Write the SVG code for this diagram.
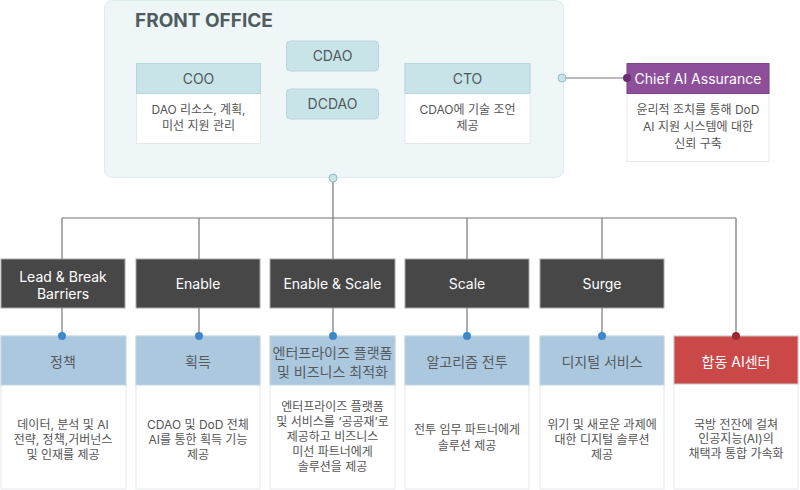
<svg xmlns="http://www.w3.org/2000/svg" width="800" height="490" viewBox="0 0 800 490">
<style>
text{font-family:Inter,"Noto Sans","Noto Sans CJK KR",sans-serif;text-anchor:middle}
.hd{fill:#c9e4e8;stroke:#b9d6db;stroke-width:1}
.wb{fill:#ffffff;stroke:#e3e8ea;stroke-width:1}
.ht{font-size:14px;fill:#4f5a5c}
.bt{font-size:12px;fill:#555555}
.dk{fill:#474747;stroke:#a8a8a8;stroke-width:1}
.dt{font-size:14px;fill:#ffffff}
.bh{fill:#abc8de;stroke:#c2d6e4;stroke-width:1}
.bht{font-size:14px;fill:#555a5e}
.ln{stroke:#777777;stroke-width:1.2;fill:none}
.bd{fill:#3d88c9}
</style>
<g id="front-office">
<rect x="104.5" y="0.5" width="459" height="177" rx="8" fill="#eef6f8" stroke="#dcebee"/>
<text x="135" y="27" style="font-size:19px;font-weight:700;fill:#4f5d60;text-anchor:start">FRONT OFFICE</text>
</g>
<g id="coo">
<rect class="wb" x="136.5" y="63.5" width="124" height="80"/>
<rect class="hd" x="136.5" y="63.5" width="124" height="30"/>
<text class="ht" x="198.5" y="84">COO</text>
<text class="bt" x="198.5" y="114">DAO 리소스, 계획,</text>
<text class="bt" x="198.5" y="130">미선 지원 관리</text>
</g>
<g id="cdao">
<rect class="hd" x="286.5" y="41" width="92" height="30" rx="4"/>
<text class="ht" x="332.5" y="61">CDAO</text>
</g>
<g id="dcdao">
<rect class="hd" x="286.5" y="89" width="92" height="30" rx="4"/>
<text class="ht" x="332.5" y="109">DCDAO</text>
</g>
<g id="cto">
<rect class="wb" x="405" y="63.5" width="125" height="80"/>
<rect class="hd" x="405" y="63.5" width="125" height="30"/>
<text class="ht" x="467.5" y="84">CTO</text>
<text class="bt" x="467.5" y="114">CDAO에 기술 조언</text>
<text class="bt" x="467.5" y="130">제공</text>
</g>
<g id="chief-ai-assurance">
<rect class="wb" x="627" y="63.5" width="142" height="98"/>
<rect x="627" y="63.5" width="142" height="30" fill="#8e4f9a" stroke="#7f4589"/>
<text x="698" y="84" style="font-size:14px;fill:#ffffff">Chief AI Assurance</text>
<text class="bt" x="698" y="114">윤리적 조치를 통해 DoD</text>
<text class="bt" x="698" y="131">AI 지원 시스템에 대한</text>
<text class="bt" x="698" y="148">신뢰 구축</text>
</g>
<g id="lead"><rect class="dk" x="1" y="259" width="124" height="49"/>
<text class="dt" x="63" y="282">Lead &amp; Break</text><text class="dt" x="63" y="299">Barriers</text></g>
<g id="enable"><rect class="dk" x="136" y="259" width="124" height="49"/><text class="dt" x="198" y="289">Enable</text></g>
<g id="enable-scale"><rect class="dk" x="270" y="259" width="125" height="49"/><text class="dt" x="332.5" y="289">Enable &amp; Scale</text></g>
<g id="scale"><rect class="dk" x="405" y="259" width="124" height="49"/><text class="dt" x="467" y="289">Scale</text></g>
<g id="surge"><rect class="dk" x="540" y="259" width="124" height="49"/><text class="dt" x="602" y="289">Surge</text></g>
<g id="policy">
<rect class="wb" x="1" y="336" width="125" height="153"/><rect class="bh" x="1" y="336" width="125" height="49"/>
<text class="bht" x="63" y="367">정책</text>
<text class="bt" x="63" y="429">데이터, 분석 및 AI</text>
<text class="bt" x="63" y="444">전략, 정책,거버넌스</text>
<text class="bt" x="63" y="459">및 인재를 제공</text>
</g>
<g id="acquisition">
<rect class="wb" x="136" y="336" width="124" height="153"/><rect class="bh" x="136" y="336" width="124" height="49"/>
<text class="bht" x="198" y="367">획득</text>
<text class="bt" x="198" y="429">CDAO 및 DoD 전체</text>
<text class="bt" x="198" y="444">AI를 통한 획득 기능</text>
<text class="bt" x="198" y="459">제공</text>
</g>
<g id="enterprise">
<rect class="wb" x="270" y="336" width="125" height="153"/><rect class="bh" x="270" y="336" width="125" height="49"/>
<text class="bht" x="332.5" y="358">엔터프라이즈 플랫폼</text>
<text class="bht" x="332.5" y="377">및 비즈니스 최적화</text>
<text class="bt" x="332.5" y="411">엔터프라이즈 플랫폼</text>
<text class="bt" x="332.5" y="426">및 서비스를 ‘공공재’로</text>
<text class="bt" x="332.5" y="441">제공하고 비즈니스</text>
<text class="bt" x="332.5" y="456">미선 파트너에게</text>
<text class="bt" x="332.5" y="471">솔루션을 제공</text>
</g>
<g id="algorithm">
<rect class="wb" x="405" y="336" width="124" height="153"/><rect class="bh" x="405" y="336" width="124" height="49"/>
<text class="bht" x="467" y="367">알고리즘 전투</text>
<text class="bt" x="467" y="434">전투 임무 파트너에게</text>
<text class="bt" x="467" y="450">솔루션 제공</text>
</g>
<g id="digital">
<rect class="wb" x="540" y="336" width="124" height="153"/><rect class="bh" x="540" y="336" width="124" height="49"/>
<text class="bht" x="602" y="367">디지털 서비스</text>
<text class="bt" x="602" y="429">위기 및 새로운 과제에</text>
<text class="bt" x="602" y="444">대한 디지털 솔루션</text>
<text class="bt" x="602" y="459">제공</text>
</g>
<g id="jaic">
<rect class="wb" x="674" y="336" width="124" height="153"/><rect x="674" y="336" width="124" height="48" fill="#cb4849" stroke="#c9c9c9"/>
<text x="736" y="367" style="font-size:14px;fill:#ffffff">합동 AI센터</text>
<text class="bt" x="736" y="429">국방 전잔에 걸쳐</text>
<text class="bt" x="736" y="443">인공지능(AI)의</text>
<text class="bt" x="736" y="458">채택과 통합 가속화</text>
</g>
<g id="connectors">
<path class="ln" d="M562 78H627"/>
<circle cx="562" cy="78" r="4" fill="#c9e4e8" stroke="#93bcc4"/>
<circle cx="627" cy="78" r="4" fill="#6a2c70"/>
<path class="ln" d="M333 178V218M62 218H736M62 218V259M199 218V259M333 218V259M467 218V259M602 218V259M736 218V336"/>
<circle cx="333" cy="178" r="4" fill="#c9e4e8" stroke="#93bcc4"/>
<path class="ln" d="M62 308V336M199 308V336M333 308V336M467 308V336M602 308V336"/>
<circle class="bd" cx="62" cy="336" r="4"/>
<circle class="bd" cx="199" cy="336" r="4"/>
<circle class="bd" cx="333" cy="336" r="4"/>
<circle class="bd" cx="467" cy="336" r="4"/>
<circle class="bd" cx="602" cy="336" r="4"/>
<circle cx="736" cy="336" r="4" fill="#9b2a35"/>
</g>
</svg>
